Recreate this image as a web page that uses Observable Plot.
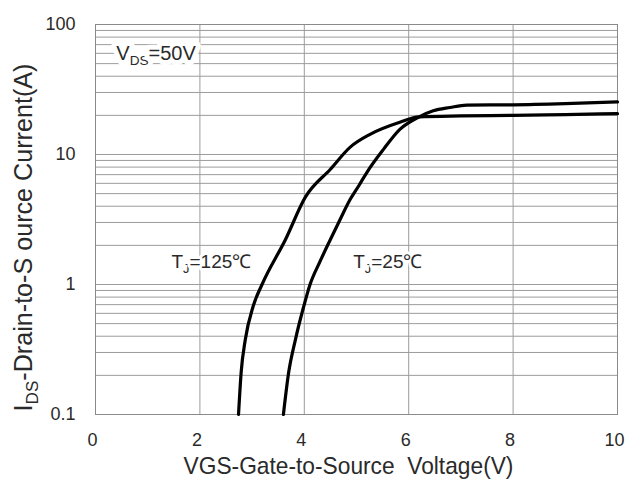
<!DOCTYPE html>
<html>
<head>
<meta charset="utf-8">
<script src="https://cdn.jsdelivr.net/npm/d3@7"></script>
<script src="https://cdn.jsdelivr.net/npm/@observablehq/plot@0.6"></script>
<style>
  html, body { margin: 0; padding: 0; background: #fff; }
  #chart svg { display: block; }
</style>
</head>
<body>
<div id="chart"></div>
<script>
// ---- data ----
const vgs125 = [2.74, 2.79, 2.87, 3.02, 3.19, 3.64, 4.02, 4.5, 4.88, 5.26, 5.83, 6.2, 7.0, 8.0, 9.0, 10.0];
const id125  = [0.1, 0.21, 0.377, 0.68, 1.0, 2.22, 4.7, 7.7, 11.4, 14.3, 17.7, 19.5, 19.8, 20.0, 20.3, 20.6];
const vgs25  = [3.60, 3.70, 3.83, 3.99, 4.11, 4.30, 4.50, 4.70, 4.88, 5.05, 5.20, 5.52, 5.83, 6.2, 6.47, 6.79, 7.11, 8.0, 9.0, 10.0];
const id25   = [0.1, 0.21, 0.377, 0.68, 1.0, 1.5, 2.22, 3.25, 4.52, 5.8, 7.3, 11.0, 15.6, 19.5, 21.7, 23.0, 24.0, 24.1, 24.6, 25.4];

const xTicks = [0, 2, 4, 6, 8, 10];
const yTicks = [0.1, 1, 10, 100];
const xGrid  = [2, 4, 6, 8];
const yGrid  = [0.1, 0.2, 0.3, 0.4, 0.5, 0.6, 0.7, 0.8, 0.9,
                1, 2, 3, 4, 5, 6, 7, 8, 9,
                10, 20, 30, 40, 50, 60, 70, 80, 90, 100];

const annText = ["VDS=50V", "TJ=125℃", "TJ=25℃"];
const annX    = [1.16, 2.22, 5.6];
const annY    = [60, 1.5, 1.5];

const xLabel = "VGS-Gate-to-Source  Voltage(V)";
const yLabel = "IDS-Drain-to-S ource Current(A)";

// ---- build tables ----
const curves = [
  ...vgs125.map((v, i) => ({vgs: v, id: id125[i], tj: "125"})),
  ...vgs25.map((v, i) => ({vgs: v, id: id25[i], tj: "25"}))
];
const ann = annText.map((t, i) => ({text: t, x: annX[i], y: annY[i]}));

const font = "'Liberation Sans', Arial, sans-serif";
const ink = "#2a2a2a";
const gridColor = "#9c9c9c";

const plot = Plot.plot({
  width: 626,
  height: 486,
  marginLeft: 95,
  marginRight: 9,
  marginTop: 24,
  marginBottom: 72,
  style: {fontFamily: font, background: "#fff", color: ink},
  x: {domain: [0, 10]},
  y: {type: "log", domain: [0.1, 100]},
  marks: [
    Plot.ruleY(yGrid, {stroke: gridColor, strokeWidth: 1}),
    Plot.ruleX(xGrid, {stroke: gridColor, strokeWidth: 1}),
    Plot.frame({stroke: "#8a8a8a", strokeWidth: 1}),
    Plot.axisX({ticks: xTicks, tickSize: 0, tickPadding: 19, fontSize: 18, label: null, fill: ink, dx: -3}),
    Plot.axisY({ticks: yTicks, tickSize: 0, tickPadding: 20, fontSize: 18, label: null, fill: ink,
                tickFormat: d => String(d)}),
    Plot.line(curves, {x: "vgs", y: "id", z: "tj", stroke: "#000", strokeWidth: 3.2,
                       curve: "monotone-x", strokeLinejoin: "round", strokeLinecap: "round"}),
    Plot.text(ann.slice(0, 1), {x: "x", y: "y", text: "text", fontSize: 20, fill: ink,
                    stroke: "#fff", strokeWidth: 10, paintOrder: "stroke"}),
    Plot.text(ann.slice(1), {x: "x", y: "y", text: "text", fontSize: 19, fill: ink,
                    stroke: "#fff", strokeWidth: 6, paintOrder: "stroke"}),
    Plot.text([xLabel], {frameAnchor: "bottom", textAnchor: "middle", dx: -8, dy: 59, fontSize: 24, fill: ink}),
    Plot.text([yLabel], {frameAnchor: "left", textAnchor: "middle", rotate: -90, dx: -72, dy: 18,
                         fontSize: 25, fill: ink})
  ]
});

document.getElementById("chart").appendChild(plot);

// ---- subscripts and condensed axis titles ----
function subscript(el, head, sub, tail, size) {
  const shift = size * 0.28;
  el.textContent = "";
  const ns = "http://www.w3.org/2000/svg";
  const a = document.createElementNS(ns, "tspan"); a.textContent = head; el.appendChild(a);
  const b = document.createElementNS(ns, "tspan"); b.textContent = sub;
  b.setAttribute("font-size", (size * 0.68) + "px"); b.setAttribute("dy", shift + "px"); el.appendChild(b);
  const c = document.createElementNS(ns, "tspan"); c.textContent = tail;
  c.setAttribute("dy", (-shift) + "px"); el.appendChild(c);
}
function condense(el, target) {
  const L = el.getComputedTextLength();
  if (L > 0) {
    const k = target / L;
    const tr = el.getAttribute("transform") || "";
    el.setAttribute("transform", tr + ` scale(${k},1)`);
  }
}
d3.select(plot).selectAll("text").each(function() {
  const t = this.textContent;
  if (t === "VDS=50V") subscript(this, "V", "DS", "=50V", 20);
  else if (t === "TJ=125℃") subscript(this, "T", "J", "=125℃", 19);
  else if (t === "TJ=25℃") subscript(this, "T", "J", "=25℃", 19);
  else if (t === yLabel) {
    subscript(this, "I", "DS", "-Drain-to-S ource Current(A)", 25);
    condense(this, 348);
  } else if (t === xLabel) {
    this.style.whiteSpace = "pre";
    condense(this, 330);
  }
});
</script>
</body>
</html>
